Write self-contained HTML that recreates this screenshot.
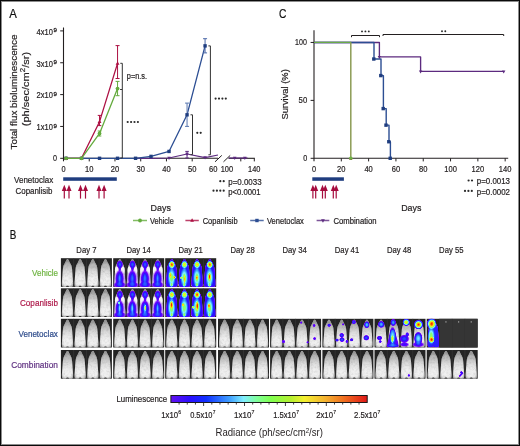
<!DOCTYPE html>
<html><head><meta charset="utf-8"><style>
html,body{margin:0;padding:0;background:#fff;}
svg{display:block;will-change:transform;font-family:"Liberation Sans",sans-serif;}
</style></head><body>
<svg width="520" height="446" viewBox="0 0 520 446">
<rect x="0.5" y="0.5" width="519" height="445" fill="#fff" stroke="#0a0a0a" stroke-width="1"/>
<rect x="1.5" y="1.5" width="517" height="443" fill="none" stroke="#8c8c8c" stroke-width="1"/>
<text x="9.2" y="17.8" font-size="12" fill="#111" stroke="#111" stroke-width="0.2" text-anchor="start" textLength="7.6" lengthAdjust="spacingAndGlyphs" >A</text>
<text x="278.9" y="18.2" font-size="12" fill="#111" stroke="#111" stroke-width="0.2" text-anchor="start" textLength="7.4" lengthAdjust="spacingAndGlyphs" >C</text>
<text x="9.7" y="238.8" font-size="12" fill="#111" stroke="#111" stroke-width="0.2" text-anchor="start" textLength="6.6" lengthAdjust="spacingAndGlyphs" >B</text>
<line x1="63.5" y1="27.5" x2="63.5" y2="161.3" stroke="#231f20" stroke-width="1.1" />
<line x1="63.5" y1="158.3" x2="218.0" y2="158.3" stroke="#231f20" stroke-width="1.1" />
<line x1="228.5" y1="158.3" x2="254.8" y2="158.3" stroke="#231f20" stroke-width="1.1" />
<line x1="60.2" y1="158.3" x2="63.5" y2="158.3" stroke="#231f20" stroke-width="1.0" />
<line x1="60.2" y1="126.45000000000002" x2="63.5" y2="126.45000000000002" stroke="#231f20" stroke-width="1.0" />
<line x1="60.2" y1="94.60000000000001" x2="63.5" y2="94.60000000000001" stroke="#231f20" stroke-width="1.0" />
<line x1="60.2" y1="62.75" x2="63.5" y2="62.75" stroke="#231f20" stroke-width="1.0" />
<line x1="60.2" y1="30.900000000000006" x2="63.5" y2="30.900000000000006" stroke="#231f20" stroke-width="1.0" />
<line x1="89.24" y1="158.3" x2="89.24" y2="161.4" stroke="#231f20" stroke-width="1.0" />
<line x1="114.97999999999999" y1="158.3" x2="114.97999999999999" y2="161.4" stroke="#231f20" stroke-width="1.0" />
<line x1="140.72" y1="158.3" x2="140.72" y2="161.4" stroke="#231f20" stroke-width="1.0" />
<line x1="166.45999999999998" y1="158.3" x2="166.45999999999998" y2="161.4" stroke="#231f20" stroke-width="1.0" />
<line x1="192.2" y1="158.3" x2="192.2" y2="161.4" stroke="#231f20" stroke-width="1.0" />
<line x1="240.8" y1="158.3" x2="240.8" y2="161.4" stroke="#231f20" stroke-width="1.0" />
<line x1="254.3" y1="158.3" x2="254.3" y2="161.4" stroke="#231f20" stroke-width="1.0" />
<line x1="215.0" y1="161.8" x2="221.8" y2="155.4" stroke="#231f20" stroke-width="1.0" />
<line x1="223.5" y1="161.8" x2="230.2" y2="155.4" stroke="#231f20" stroke-width="1.0" />
<text x="36.6" y="34.70" font-size="8.21" fill="#231f20" stroke="#231f20" stroke-width="0.2" text-anchor="start" textLength="16.3" lengthAdjust="spacingAndGlyphs" >4x10</text>
<text x="53.6" y="32.30" font-size="5.83" fill="#231f20" stroke="#231f20" stroke-width="0.3" text-anchor="start" textLength="3.4" lengthAdjust="spacingAndGlyphs" >9</text>
<text x="36.6" y="66.55" font-size="8.21" fill="#231f20" stroke="#231f20" stroke-width="0.2" text-anchor="start" textLength="16.3" lengthAdjust="spacingAndGlyphs" >3x10</text>
<text x="53.6" y="64.15" font-size="5.83" fill="#231f20" stroke="#231f20" stroke-width="0.3" text-anchor="start" textLength="3.4" lengthAdjust="spacingAndGlyphs" >9</text>
<text x="36.6" y="98.40" font-size="8.21" fill="#231f20" stroke="#231f20" stroke-width="0.2" text-anchor="start" textLength="16.3" lengthAdjust="spacingAndGlyphs" >2x10</text>
<text x="53.6" y="96.00" font-size="5.83" fill="#231f20" stroke="#231f20" stroke-width="0.3" text-anchor="start" textLength="3.4" lengthAdjust="spacingAndGlyphs" >9</text>
<text x="36.6" y="130.25" font-size="8.21" fill="#231f20" stroke="#231f20" stroke-width="0.2" text-anchor="start" textLength="16.3" lengthAdjust="spacingAndGlyphs" >1x10</text>
<text x="53.6" y="127.85" font-size="5.83" fill="#231f20" stroke="#231f20" stroke-width="0.3" text-anchor="start" textLength="3.4" lengthAdjust="spacingAndGlyphs" >9</text>
<text x="53.1" y="161.20" font-size="8.21" fill="#231f20" stroke="#231f20" stroke-width="0.2" text-anchor="start" textLength="4.0" lengthAdjust="spacingAndGlyphs" >0</text>
<text x="63.50" y="172.2" font-size="8.21" fill="#231f20" stroke="#231f20" stroke-width="0.2" text-anchor="middle" textLength="4.1" lengthAdjust="spacingAndGlyphs" >0</text>
<text x="89.24" y="172.2" font-size="8.21" fill="#231f20" stroke="#231f20" stroke-width="0.2" text-anchor="middle" textLength="8.4" lengthAdjust="spacingAndGlyphs" >10</text>
<text x="114.98" y="172.2" font-size="8.21" fill="#231f20" stroke="#231f20" stroke-width="0.2" text-anchor="middle" textLength="8.4" lengthAdjust="spacingAndGlyphs" >20</text>
<text x="140.72" y="172.2" font-size="8.21" fill="#231f20" stroke="#231f20" stroke-width="0.2" text-anchor="middle" textLength="8.4" lengthAdjust="spacingAndGlyphs" >30</text>
<text x="166.46" y="172.2" font-size="8.21" fill="#231f20" stroke="#231f20" stroke-width="0.2" text-anchor="middle" textLength="8.4" lengthAdjust="spacingAndGlyphs" >40</text>
<text x="192.20" y="172.2" font-size="8.21" fill="#231f20" stroke="#231f20" stroke-width="0.2" text-anchor="middle" textLength="8.4" lengthAdjust="spacingAndGlyphs" >50</text>
<text x="213.20" y="172.2" font-size="8.21" fill="#231f20" stroke="#231f20" stroke-width="0.2" text-anchor="middle" textLength="8.4" lengthAdjust="spacingAndGlyphs" >60</text>
<text x="226.9" y="172.2" font-size="8.21" fill="#231f20" stroke="#231f20" stroke-width="0.2" text-anchor="middle" textLength="12.4" lengthAdjust="spacingAndGlyphs" >100</text>
<text x="254.3" y="172.2" font-size="8.21" fill="#231f20" stroke="#231f20" stroke-width="0.2" text-anchor="middle" textLength="12.4" lengthAdjust="spacingAndGlyphs" >140</text>
<g transform="translate(16.8,149.5) rotate(-90)"><text x="0" y="0" font-size="9.4" fill="#231f20" stroke="#231f20" stroke-width="0.2" textLength="115" lengthAdjust="spacingAndGlyphs">Total flux bioluminescence</text></g>
<g transform="translate(28.9,126.2) rotate(-90)"><text x="0" y="0" font-size="9.4" fill="#231f20" stroke="#231f20" stroke-width="0.2" textLength="74.3" lengthAdjust="spacingAndGlyphs">(ph/sec/cm<tspan font-size="6.6" dy="-3.8">2</tspan><tspan dy="3.8">/sr)</tspan></text></g>
<polyline points="135.57,158.30 151.02,158.30 169.03,157.98 187.05,154.00 205.07,157.66 218.00,155.00" fill="none" stroke="#5c2a7f" stroke-width="1.2" stroke-linejoin="round" />
<polyline points="228.80,158.00 234.73,158.00 244.85,158.00 247.50,158.00" fill="none" stroke="#5c2a7f" stroke-width="1.2" stroke-linejoin="round" />
<g stroke="#5c2a7f" stroke-width="1.0" opacity="1"><line x1="187.052" y1="151.4" x2="187.052" y2="158.0"/><line x1="185.25199999999998" y1="151.4" x2="188.852" y2="151.4"/><line x1="185.25199999999998" y1="158.0" x2="188.852" y2="158.0"/></g>
<polygon points="169.03,159.93 170.83,156.69 167.23,156.69" fill="#5c2a7f"/>
<polygon points="187.05,155.94 188.85,152.70 185.25,152.70" fill="#5c2a7f"/>
<polygon points="205.07,159.61 206.87,156.37 203.27,156.37" fill="#5c2a7f"/>
<polygon points="234.73,159.94 236.53,156.70 232.93,156.70" fill="#5c2a7f"/>
<polygon points="244.85,159.94 246.65,156.70 243.05,156.70" fill="#5c2a7f"/>
<polyline points="66.07,158.30 81.52,158.30 99.54,158.30 117.55,158.30 135.57,158.30 151.02,156.39 169.03,151.45 187.05,114.82 205.07,45.87" fill="none" stroke="#2c4e93" stroke-width="1.3" stroke-linejoin="round" />
<g stroke="#5a77b0" stroke-width="1.0" opacity="1"><line x1="187.052" y1="103.1" x2="187.052" y2="126.4"/><line x1="185.052" y1="103.1" x2="189.052" y2="103.1"/><line x1="185.052" y1="126.4" x2="189.052" y2="126.4"/></g>
<g stroke="#4a68a8" stroke-width="1.0" opacity="1"><line x1="205.07" y1="38.7" x2="205.07" y2="52.9"/><line x1="203.07" y1="38.7" x2="207.07" y2="38.7"/><line x1="203.07" y1="52.9" x2="207.07" y2="52.9"/></g>
<rect x="64.37" y="156.60" width="3.4" height="3.4" fill="#1f3d7f"/>
<rect x="79.82" y="156.60" width="3.4" height="3.4" fill="#1f3d7f"/>
<rect x="97.84" y="156.60" width="3.4" height="3.4" fill="#1f3d7f"/>
<rect x="115.85" y="156.60" width="3.4" height="3.4" fill="#1f3d7f"/>
<rect x="133.87" y="156.60" width="3.4" height="3.4" fill="#1f3d7f"/>
<rect x="149.32" y="154.69" width="3.4" height="3.4" fill="#1f3d7f"/>
<rect x="167.33" y="149.75" width="3.4" height="3.4" fill="#1f3d7f"/>
<rect x="185.35" y="113.12" width="3.4" height="3.4" fill="#1f3d7f"/>
<rect x="203.37" y="44.17" width="3.4" height="3.4" fill="#1f3d7f"/>
<polyline points="66.07,158.30 81.52,158.30 99.54,121.67 117.55,63.39" fill="none" stroke="#ad1043" stroke-width="1.3" stroke-linejoin="round" />
<g stroke="#ad1043" stroke-width="1.0" opacity="1"><line x1="99.536" y1="115.4" x2="99.536" y2="125.6"/><line x1="97.736" y1="115.4" x2="101.336" y2="115.4"/><line x1="97.736" y1="125.6" x2="101.336" y2="125.6"/></g>
<g stroke="#ad1043" stroke-width="1.0" opacity="1"><line x1="117.554" y1="45.6" x2="117.554" y2="78.5"/><line x1="115.554" y1="45.6" x2="119.554" y2="45.6"/><line x1="115.554" y1="78.5" x2="119.554" y2="78.5"/></g>
<polygon points="66.07,156.25 67.97,159.67 64.17,159.67" fill="#ad1043"/>
<polygon points="81.52,156.25 83.42,159.67 79.62,159.67" fill="#ad1043"/>
<polygon points="99.54,119.62 101.44,123.04 97.64,123.04" fill="#ad1043"/>
<polygon points="117.55,61.34 119.45,64.76 115.65,64.76" fill="#ad1043"/>
<polyline points="66.07,158.30 81.52,158.30 99.54,133.46 117.55,88.55" fill="none" stroke="#64ab3d" stroke-width="1.3" stroke-linejoin="round" />
<g stroke="#64ab3d" stroke-width="1.0" opacity="1"><line x1="99.536" y1="131.0" x2="99.536" y2="136.0"/><line x1="97.736" y1="131.0" x2="101.336" y2="131.0"/><line x1="97.736" y1="136.0" x2="101.336" y2="136.0"/></g>
<g stroke="#64ab3d" stroke-width="1.0" opacity="1"><line x1="117.554" y1="81.4" x2="117.554" y2="95.7"/><line x1="115.554" y1="81.4" x2="119.554" y2="81.4"/><line x1="115.554" y1="95.7" x2="119.554" y2="95.7"/></g>
<circle cx="66.07" cy="158.30" r="1.9" fill="#64ab3d"/>
<circle cx="81.52" cy="158.30" r="1.9" fill="#64ab3d"/>
<circle cx="99.54" cy="133.46" r="1.9" fill="#64ab3d"/>
<circle cx="117.55" cy="88.55" r="1.9" fill="#64ab3d"/>
<polyline points="120.3,63.3 122.3,63.3 122.3,89.5 120.3,89.5" fill="none" stroke="#333" stroke-width="1.0"/>
<polyline points="120.3,89.5 122.3,89.5 122.3,158.0 120.3,158.0" fill="none" stroke="#333" stroke-width="1.0"/>
<text x="126.8" y="78.6" font-size="8.21" fill="#231f20" stroke="#231f20" stroke-width="0.2" text-anchor="start" textLength="20.2" lengthAdjust="spacingAndGlyphs" >p=n.s.</text>
<circle cx="127.70" cy="122.0" r="1.1" fill="#2a2a2a"/>
<circle cx="131.10" cy="122.0" r="1.1" fill="#2a2a2a"/>
<circle cx="134.50" cy="122.0" r="1.1" fill="#2a2a2a"/>
<circle cx="137.90" cy="122.0" r="1.1" fill="#2a2a2a"/>
<polyline points="190.5,114.8 192.5,114.8 192.5,154.6 190.5,154.6" fill="none" stroke="#333" stroke-width="1.0"/>
<circle cx="197.30" cy="132.8" r="1.1" fill="#2a2a2a"/>
<circle cx="200.70" cy="132.8" r="1.1" fill="#2a2a2a"/>
<polyline points="208.4,45.9 210.4,45.9 210.4,154.8 208.4,154.8" fill="none" stroke="#333" stroke-width="1.0"/>
<circle cx="215.60" cy="98.6" r="1.1" fill="#2a2a2a"/>
<circle cx="219.00" cy="98.6" r="1.1" fill="#2a2a2a"/>
<circle cx="222.40" cy="98.6" r="1.1" fill="#2a2a2a"/>
<circle cx="225.80" cy="98.6" r="1.1" fill="#2a2a2a"/>
<circle cx="220.30" cy="181.2" r="1.1" fill="#2a2a2a"/>
<circle cx="223.70" cy="181.2" r="1.1" fill="#2a2a2a"/>
<text x="228.3" y="185.0" font-size="8.21" fill="#231f20" stroke="#231f20" stroke-width="0.2" text-anchor="start" textLength="33.3" lengthAdjust="spacingAndGlyphs" >p=0.0033</text>
<circle cx="213.50" cy="190.7" r="1.1" fill="#2a2a2a"/>
<circle cx="216.90" cy="190.7" r="1.1" fill="#2a2a2a"/>
<circle cx="220.30" cy="190.7" r="1.1" fill="#2a2a2a"/>
<circle cx="223.70" cy="190.7" r="1.1" fill="#2a2a2a"/>
<text x="228.3" y="194.5" font-size="8.21" fill="#231f20" stroke="#231f20" stroke-width="0.2" text-anchor="start" textLength="32.3" lengthAdjust="spacingAndGlyphs" >p&lt;0.0001</text>
<rect x="63.2" y="177.3" width="53.599999999999994" height="3.5" fill="#1f3d7f"/>
<line x1="64.3" y1="189.5" x2="64.3" y2="198.6" stroke="#a60c3e" stroke-width="1.2"/>
<polygon points="64.3,184.7 66.8,190.9 61.8,190.9" fill="#a60c3e"/>
<line x1="69.0" y1="189.5" x2="69.0" y2="198.6" stroke="#a60c3e" stroke-width="1.2"/>
<polygon points="69.0,184.7 71.5,190.9 66.5,190.9" fill="#a60c3e"/>
<line x1="80.5" y1="189.5" x2="80.5" y2="198.6" stroke="#a60c3e" stroke-width="1.2"/>
<polygon points="80.5,184.7 83.0,190.9 78.0,190.9" fill="#a60c3e"/>
<line x1="85.5" y1="189.5" x2="85.5" y2="198.6" stroke="#a60c3e" stroke-width="1.2"/>
<polygon points="85.5,184.7 88.0,190.9 83.0,190.9" fill="#a60c3e"/>
<line x1="99.0" y1="189.5" x2="99.0" y2="198.6" stroke="#a60c3e" stroke-width="1.2"/>
<polygon points="99.0,184.7 101.5,190.9 96.5,190.9" fill="#a60c3e"/>
<line x1="104.1" y1="189.5" x2="104.1" y2="198.6" stroke="#a60c3e" stroke-width="1.2"/>
<polygon points="104.1,184.7 106.6,190.9 101.6,190.9" fill="#a60c3e"/>
<text x="14.1" y="182.5" font-size="8.53" fill="#231f20" stroke="#231f20" stroke-width="0.2" text-anchor="start" textLength="39.1" lengthAdjust="spacingAndGlyphs" >Venetoclax</text>
<text x="15.5" y="193.9" font-size="8.53" fill="#231f20" stroke="#231f20" stroke-width="0.2" text-anchor="start" textLength="37.0" lengthAdjust="spacingAndGlyphs" >Copanlisib</text>
<text x="150.6" y="211.0" font-size="9.72" fill="#231f20" stroke="#231f20" stroke-width="0.2" text-anchor="start" textLength="20.3" lengthAdjust="spacingAndGlyphs" >Days</text>
<line x1="314.0" y1="30.3" x2="314.0" y2="161.3" stroke="#231f20" stroke-width="1.1" />
<line x1="314.0" y1="158.3" x2="508.2" y2="158.3" stroke="#231f20" stroke-width="1.1" />
<line x1="310.6" y1="158.3" x2="314.0" y2="158.3" stroke="#231f20" stroke-width="1.0" />
<line x1="310.6" y1="100.375" x2="314.0" y2="100.375" stroke="#231f20" stroke-width="1.0" />
<line x1="310.6" y1="42.45" x2="314.0" y2="42.45" stroke="#231f20" stroke-width="1.0" />
<line x1="341.31" y1="158.3" x2="341.31" y2="161.4" stroke="#231f20" stroke-width="1.0" />
<line x1="368.62" y1="158.3" x2="368.62" y2="161.4" stroke="#231f20" stroke-width="1.0" />
<line x1="395.93" y1="158.3" x2="395.93" y2="161.4" stroke="#231f20" stroke-width="1.0" />
<line x1="423.24" y1="158.3" x2="423.24" y2="161.4" stroke="#231f20" stroke-width="1.0" />
<line x1="450.54999999999995" y1="158.3" x2="450.54999999999995" y2="161.4" stroke="#231f20" stroke-width="1.0" />
<line x1="477.86" y1="158.3" x2="477.86" y2="161.4" stroke="#231f20" stroke-width="1.0" />
<line x1="505.16999999999996" y1="158.3" x2="505.16999999999996" y2="161.4" stroke="#231f20" stroke-width="1.0" />
<text x="306.9" y="45.25" font-size="8.21" fill="#231f20" stroke="#231f20" stroke-width="0.2" text-anchor="end" textLength="11.8" lengthAdjust="spacingAndGlyphs" >100</text>
<text x="307.2" y="103.17" font-size="8.21" fill="#231f20" stroke="#231f20" stroke-width="0.2" text-anchor="end" textLength="8.6" lengthAdjust="spacingAndGlyphs" >50</text>
<text x="307.2" y="161.10" font-size="8.21" fill="#231f20" stroke="#231f20" stroke-width="0.2" text-anchor="end" textLength="4.0" lengthAdjust="spacingAndGlyphs" >0</text>
<text x="314.00" y="172.0" font-size="8.21" fill="#231f20" stroke="#231f20" stroke-width="0.2" text-anchor="middle" textLength="4.1" lengthAdjust="spacingAndGlyphs" >0</text>
<text x="341.31" y="172.0" font-size="8.21" fill="#231f20" stroke="#231f20" stroke-width="0.2" text-anchor="middle" textLength="8.4" lengthAdjust="spacingAndGlyphs" >20</text>
<text x="368.62" y="172.0" font-size="8.21" fill="#231f20" stroke="#231f20" stroke-width="0.2" text-anchor="middle" textLength="8.4" lengthAdjust="spacingAndGlyphs" >40</text>
<text x="395.93" y="172.0" font-size="8.21" fill="#231f20" stroke="#231f20" stroke-width="0.2" text-anchor="middle" textLength="8.4" lengthAdjust="spacingAndGlyphs" >60</text>
<text x="423.24" y="172.0" font-size="8.21" fill="#231f20" stroke="#231f20" stroke-width="0.2" text-anchor="middle" textLength="8.4" lengthAdjust="spacingAndGlyphs" >80</text>
<text x="450.55" y="172.0" font-size="8.21" fill="#231f20" stroke="#231f20" stroke-width="0.2" text-anchor="middle" textLength="12.6" lengthAdjust="spacingAndGlyphs" >100</text>
<text x="477.86" y="172.0" font-size="8.21" fill="#231f20" stroke="#231f20" stroke-width="0.2" text-anchor="middle" textLength="12.6" lengthAdjust="spacingAndGlyphs" >120</text>
<text x="505.17" y="172.0" font-size="8.21" fill="#231f20" stroke="#231f20" stroke-width="0.2" text-anchor="middle" textLength="12.6" lengthAdjust="spacingAndGlyphs" >140</text>
<g transform="translate(288.0,119.6) rotate(-90)"><text x="0" y="0" font-size="9.2" fill="#231f20" stroke="#231f20" stroke-width="0.2" textLength="50.4" lengthAdjust="spacingAndGlyphs">Survival (%)</text></g>
<text x="401.2" y="210.8" font-size="9.72" fill="#231f20" stroke="#231f20" stroke-width="0.2" text-anchor="start" textLength="20.2" lengthAdjust="spacingAndGlyphs" >Days</text>
<circle cx="468.60" cy="180.5" r="1.1" fill="#2a2a2a"/>
<circle cx="472.00" cy="180.5" r="1.1" fill="#2a2a2a"/>
<text x="476.8" y="184.3" font-size="8.21" fill="#231f20" stroke="#231f20" stroke-width="0.2" text-anchor="start" textLength="33.2" lengthAdjust="spacingAndGlyphs" >p=0.0013</text>
<circle cx="465.00" cy="190.9" r="1.1" fill="#2a2a2a"/>
<circle cx="468.40" cy="190.9" r="1.1" fill="#2a2a2a"/>
<circle cx="471.80" cy="190.9" r="1.1" fill="#2a2a2a"/>
<text x="476.8" y="194.7" font-size="8.21" fill="#231f20" stroke="#231f20" stroke-width="0.2" text-anchor="start" textLength="33.2" lengthAdjust="spacingAndGlyphs" >p=0.0002</text>
<polyline points="314.00,42.45 379.40,42.45 379.40,56.93 420.60,56.93 420.60,71.41 503.70,71.41" fill="none" stroke="#5c2a7f" stroke-width="1.35" stroke-linejoin="round" />
<polyline points="314.00,42.45 374.00,42.45 374.00,59.02 381.00,59.02 381.00,75.58 383.40,75.58 383.40,108.60 386.20,108.60 386.20,125.17 389.00,125.17 389.00,141.73 390.40,141.73 390.40,158.30" fill="none" stroke="#2c4e93" stroke-width="1.4" stroke-linejoin="round" />
<rect x="372.10" y="57.32" width="3.4" height="3.4" fill="#1f3d7f"/>
<rect x="379.10" y="73.88" width="3.4" height="3.4" fill="#1f3d7f"/>
<rect x="381.50" y="106.90" width="3.4" height="3.4" fill="#1f3d7f"/>
<rect x="384.30" y="123.47" width="3.4" height="3.4" fill="#1f3d7f"/>
<rect x="387.10" y="140.03" width="3.4" height="3.4" fill="#1f3d7f"/>
<rect x="388.50" y="156.60" width="3.4" height="3.4" fill="#1f3d7f"/>
<polygon points="379.40,59.07 381.10,56.01 377.70,56.01" fill="#5c2a7f"/>
<polygon points="420.60,73.55 422.30,70.49 418.90,70.49" fill="#5c2a7f"/>
<polygon points="503.70,73.55 505.40,70.49 502.00,70.49" fill="#5c2a7f"/>
<line x1="314.0" y1="42.45" x2="351.2" y2="42.45" stroke="#6aaa48" stroke-width="1.2" />
<line x1="350.8" y1="42.45" x2="350.8" y2="158.3" stroke="#8c9c55" stroke-width="1.5" />
<polygon points="350.80,157.07 352.40,159.95 349.20,159.95" fill="#ad1043"/>
<circle cx="350.80" cy="158.30" r="1.8" fill="#6cb043"/>
<polyline points="351.5,37.2 351.5,35.5 379.5,35.5 379.5,37.2" fill="none" stroke="#231f20" stroke-width="1"/>
<circle cx="362.00" cy="31.4" r="0.95" fill="#2a2a2a"/>
<circle cx="365.40" cy="31.4" r="0.95" fill="#2a2a2a"/>
<circle cx="368.80" cy="31.4" r="0.95" fill="#2a2a2a"/>
<polyline points="383.0,36.0 383.0,34.5 503.7,34.5 503.7,36.0" fill="none" stroke="#231f20" stroke-width="1"/>
<circle cx="442.00" cy="31.2" r="0.95" fill="#2a2a2a"/>
<circle cx="445.30" cy="31.2" r="0.95" fill="#2a2a2a"/>
<rect x="312.3" y="177.3" width="31.599999999999966" height="3.5" fill="#1f3d7f"/>
<line x1="312.9" y1="189.5" x2="312.9" y2="198.6" stroke="#a60c3e" stroke-width="1.2"/>
<polygon points="312.9,184.7 315.4,190.9 310.4,190.9" fill="#a60c3e"/>
<line x1="315.7" y1="189.5" x2="315.7" y2="198.6" stroke="#a60c3e" stroke-width="1.2"/>
<polygon points="315.7,184.7 318.2,190.9 313.2,190.9" fill="#a60c3e"/>
<line x1="322.5" y1="189.5" x2="322.5" y2="198.6" stroke="#a60c3e" stroke-width="1.2"/>
<polygon points="322.5,184.7 325.0,190.9 320.0,190.9" fill="#a60c3e"/>
<line x1="325.3" y1="189.5" x2="325.3" y2="198.6" stroke="#a60c3e" stroke-width="1.2"/>
<polygon points="325.3,184.7 327.8,190.9 322.8,190.9" fill="#a60c3e"/>
<line x1="333.3" y1="189.5" x2="333.3" y2="198.6" stroke="#a60c3e" stroke-width="1.2"/>
<polygon points="333.3,184.7 335.8,190.9 330.8,190.9" fill="#a60c3e"/>
<line x1="336.2" y1="189.5" x2="336.2" y2="198.6" stroke="#a60c3e" stroke-width="1.2"/>
<polygon points="336.2,184.7 338.7,190.9 333.7,190.9" fill="#a60c3e"/>
<line x1="133.0" y1="220.5" x2="147.0" y2="220.5" stroke="#64ab3d" stroke-width="1.5" stroke-opacity="0.8"/>
<circle cx="140.00" cy="220.50" r="1.9" fill="#64ab3d"/>
<text x="150.0" y="223.5" font-size="8.21" fill="#231f20" stroke="#231f20" stroke-width="0.2" text-anchor="start" textLength="23.8" lengthAdjust="spacingAndGlyphs" >Vehicle</text>
<line x1="185.4" y1="220.5" x2="198.8" y2="220.5" stroke="#ad1043" stroke-width="1.5" stroke-opacity="0.8"/>
<polygon points="192.10,218.25 194.00,221.67 190.20,221.67" fill="#ad1043"/>
<text x="202.7" y="223.5" font-size="8.21" fill="#231f20" stroke="#231f20" stroke-width="0.2" text-anchor="start" textLength="35.0" lengthAdjust="spacingAndGlyphs" >Copanlisib</text>
<line x1="250.2" y1="220.5" x2="263.7" y2="220.5" stroke="#2c4e93" stroke-width="1.5" stroke-opacity="0.8"/>
<rect x="255.25" y="218.80" width="3.4" height="3.4" fill="#2c4e93"/>
<text x="267.0" y="223.5" font-size="8.21" fill="#231f20" stroke="#231f20" stroke-width="0.2" text-anchor="start" textLength="36.9" lengthAdjust="spacingAndGlyphs" >Venetoclax</text>
<line x1="316.6" y1="220.5" x2="329.3" y2="220.5" stroke="#5c2a7f" stroke-width="1.5" stroke-opacity="0.8"/>
<polygon points="322.95,222.75 324.85,219.33 321.05,219.33" fill="#5c2a7f"/>
<text x="333.4" y="223.5" font-size="8.21" fill="#231f20" stroke="#231f20" stroke-width="0.2" text-anchor="start" textLength="43.2" lengthAdjust="spacingAndGlyphs" >Combination</text>
<defs>
<linearGradient id="mg" x1="0" y1="0" x2="0" y2="1">
<stop offset="0" stop-color="#cccccc"/><stop offset="0.1" stop-color="#b4b4b4"/><stop offset="0.28" stop-color="#c4c4c4"/><stop offset="0.45" stop-color="#dedede"/><stop offset="0.7" stop-color="#f2f2f2"/><stop offset="0.92" stop-color="#f6f6f6"/><stop offset="1" stop-color="#d0d0d0"/></linearGradient>
<filter id="tx" x="-0.1" y="-0.05" width="1.2" height="1.1">
<feTurbulence type="fractalNoise" baseFrequency="0.45" numOctaves="2" seed="4" result="n"/>
<feColorMatrix in="n" type="matrix" values="0.22 0.22 0.22 0 0.63  0.22 0.22 0.22 0 0.63  0.22 0.22 0.22 0 0.63  0 0 0 0 1" result="g"/>
<feBlend in="SourceGraphic" in2="g" mode="multiply" result="m"/>
<feComposite in="m" in2="SourceGraphic" operator="in" result="c"/>
<feGaussianBlur in="c" stdDeviation="0.3"/>
</filter>
<radialGradient id="me" cx="0.5" cy="0.6" r="0.62">
<stop offset="0" stop-color="#000" stop-opacity="0"/><stop offset="0.7" stop-color="#000" stop-opacity="0.03"/><stop offset="1" stop-color="#000" stop-opacity="0.3"/></radialGradient>
<filter id="bl" x="-0.3" y="-0.3" width="1.6" height="1.6"><feGaussianBlur stdDeviation="0.35"/></filter>
<filter id="hb" x="-0.5" y="-0.5" width="2" height="2"><feGaussianBlur stdDeviation="0.55"/></filter>
<path id="ms" d="M0.00,1.00 C0.12,1.05 0.48,1.08 0.70,1.30 C0.92,1.52 1.08,1.88 1.30,2.30 C1.52,2.72 1.72,3.25 2.00,3.80 C2.28,4.35 2.68,5.00 3.00,5.60 C3.32,6.20 3.67,6.77 3.90,7.40 C4.13,8.03 4.27,8.63 4.40,9.40 C4.53,10.17 4.60,10.90 4.70,12.00 C4.80,13.10 4.88,14.42 5.00,16.00 C5.12,17.58 5.30,20.00 5.40,21.50 C5.50,23.00 5.62,23.95 5.60,25.00 C5.58,26.05 5.52,27.22 5.30,27.80 C5.08,28.38 4.47,28.38 4.30,28.50 L1.7,28.5 L0.7,27.6 L-0.7,27.6 L-1.7,28.5 L-4.30,28.50 C-4.47,28.38 -5.08,28.38 -5.30,27.80 C-5.52,27.22 -5.58,26.05 -5.60,25.00 C-5.62,23.95 -5.50,23.00 -5.40,21.50 C-5.30,20.00 -5.12,17.58 -5.00,16.00 C-4.88,14.42 -4.80,13.10 -4.70,12.00 C-4.60,10.90 -4.53,10.17 -4.40,9.40 C-4.27,8.63 -4.13,8.03 -3.90,7.40 C-3.67,6.77 -3.32,6.20 -3.00,5.60 C-2.68,5.00 -2.28,4.35 -2.00,3.80 C-1.72,3.25 -1.52,2.72 -1.30,2.30 C-1.08,1.88 -0.92,1.52 -0.70,1.30 C-0.48,1.08 -0.12,1.05 0.00,1.00 Z"/>
<radialGradient id="hg"><stop offset="0" stop-color="#fff" stop-opacity="1"/><stop offset="0.3" stop-color="#fff" stop-opacity="0.88"/><stop offset="0.6" stop-color="#fff" stop-opacity="0.55"/><stop offset="0.85" stop-color="#fff" stop-opacity="0.2"/><stop offset="1" stop-color="#fff" stop-opacity="0"/></radialGradient>
<filter id="heat" color-interpolation-filters="sRGB" x="-0.1" y="-0.1" width="1.2" height="1.2">
<feGaussianBlur stdDeviation="0.55"/>
<feColorMatrix type="matrix" values="0 0 0 1 0  0 0 0 1 0  0 0 0 1 0  0 0 0 1 0"/>
<feComponentTransfer>
<feFuncR type="table" tableValues="0.416 0.416 0.165 0.157 0.235 0.502 0.502 0.784 0.98 1 0.91"/>
<feFuncG type="table" tableValues="0 0 0.078 0.353 0.667 0.941 1 1 0.902 0.51 0"/>
<feFuncB type="table" tableValues="1 1 1 1 1 1 0.47 0.157 0.118 0 0.063"/>
<feFuncA type="table" tableValues="0 1 1 1 1 1 1 1 1 1 1"/>
</feComponentTransfer>
</filter>
<linearGradient id="cbar" x1="0" x2="1" y1="0" y2="0">
<stop offset="0" stop-color="#6210f0"/><stop offset="0.10" stop-color="#2a10ff"/><stop offset="0.18" stop-color="#1030ff"/>
<stop offset="0.30" stop-color="#40a0ff"/><stop offset="0.37" stop-color="#80eeff"/><stop offset="0.44" stop-color="#80ff98"/>
<stop offset="0.51" stop-color="#80ff50"/><stop offset="0.61" stop-color="#b4f030"/><stop offset="0.68" stop-color="#f4f030"/>
<stop offset="0.79" stop-color="#f4b030"/><stop offset="0.88" stop-color="#f07020"/><stop offset="1" stop-color="#e01818"/>
</linearGradient>
</defs>
<text x="86.40" y="252.9" font-size="8.96" fill="#231f20" stroke="#231f20" stroke-width="0.2" text-anchor="middle" textLength="20.10" lengthAdjust="spacingAndGlyphs" >Day 7</text>
<text x="138.70" y="252.9" font-size="8.96" fill="#231f20" stroke="#231f20" stroke-width="0.2" text-anchor="middle" textLength="24.38" lengthAdjust="spacingAndGlyphs" >Day 14</text>
<text x="190.70" y="252.9" font-size="8.96" fill="#231f20" stroke="#231f20" stroke-width="0.2" text-anchor="middle" textLength="24.38" lengthAdjust="spacingAndGlyphs" >Day 21</text>
<text x="242.60" y="252.9" font-size="8.96" fill="#231f20" stroke="#231f20" stroke-width="0.2" text-anchor="middle" textLength="24.38" lengthAdjust="spacingAndGlyphs" >Day 28</text>
<text x="294.70" y="252.9" font-size="8.96" fill="#231f20" stroke="#231f20" stroke-width="0.2" text-anchor="middle" textLength="24.38" lengthAdjust="spacingAndGlyphs" >Day 34</text>
<text x="347.00" y="252.9" font-size="8.96" fill="#231f20" stroke="#231f20" stroke-width="0.2" text-anchor="middle" textLength="24.38" lengthAdjust="spacingAndGlyphs" >Day 41</text>
<text x="399.10" y="252.9" font-size="8.96" fill="#231f20" stroke="#231f20" stroke-width="0.2" text-anchor="middle" textLength="24.38" lengthAdjust="spacingAndGlyphs" >Day 48</text>
<text x="451.30" y="252.9" font-size="8.96" fill="#231f20" stroke="#231f20" stroke-width="0.2" text-anchor="middle" textLength="24.38" lengthAdjust="spacingAndGlyphs" >Day 55</text>
<text x="32.10" y="276.2" font-size="9.29" fill="#6db33f" stroke="#6db33f" stroke-width="0.2" text-anchor="start" textLength="25.8" lengthAdjust="spacingAndGlyphs" >Vehicle</text>
<text x="20.00" y="305.8" font-size="9.29" fill="#ae1849" stroke="#ae1849" stroke-width="0.2" text-anchor="start" textLength="37.9" lengthAdjust="spacingAndGlyphs" >Copanlisib</text>
<text x="18.50" y="337.3" font-size="9.29" fill="#2c4a8a" stroke="#2c4a8a" stroke-width="0.2" text-anchor="start" textLength="39.4" lengthAdjust="spacingAndGlyphs" >Venetoclax</text>
<text x="11.20" y="368.3" font-size="9.29" fill="#5f3081" stroke="#5f3081" stroke-width="0.2" text-anchor="start" textLength="46.7" lengthAdjust="spacingAndGlyphs" >Combination</text>
<rect x="60.9" y="258.2" width="51.0" height="28.7" fill="#242424"/>
<line x1="73.65" y1="258.2" x2="73.65" y2="286.9" stroke="#3a3a3a" stroke-width="0.6"/>
<line x1="86.40" y1="258.2" x2="86.40" y2="286.9" stroke="#3a3a3a" stroke-width="0.6"/>
<line x1="99.15" y1="258.2" x2="99.15" y2="286.9" stroke="#3a3a3a" stroke-width="0.6"/>
<g filter="url(#tx)"><use href="#ms" x="67.50" y="258.20" fill="url(#mg)"/><use href="#ms" x="67.50" y="258.20" fill="url(#me)"/></g>
<g filter="url(#tx)"><use href="#ms" x="80.15" y="258.20" fill="url(#mg)"/><use href="#ms" x="80.15" y="258.20" fill="url(#me)"/></g>
<g filter="url(#tx)"><use href="#ms" x="92.80" y="258.20" fill="url(#mg)"/><use href="#ms" x="92.80" y="258.20" fill="url(#me)"/></g>
<g filter="url(#tx)"><use href="#ms" x="105.45" y="258.20" fill="url(#mg)"/><use href="#ms" x="105.45" y="258.20" fill="url(#me)"/></g>
<rect x="113.2" y="258.2" width="51.0" height="28.7" fill="#242424"/>
<line x1="125.95" y1="258.2" x2="125.95" y2="286.9" stroke="#3a3a3a" stroke-width="0.6"/>
<line x1="138.70" y1="258.2" x2="138.70" y2="286.9" stroke="#3a3a3a" stroke-width="0.6"/>
<line x1="151.45" y1="258.2" x2="151.45" y2="286.9" stroke="#3a3a3a" stroke-width="0.6"/>
<g filter="url(#tx)"><use href="#ms" x="119.80" y="258.20" fill="url(#mg)"/><use href="#ms" x="119.80" y="258.20" fill="url(#me)"/></g>
<g filter="url(#tx)"><use href="#ms" x="132.45" y="258.20" fill="url(#mg)"/><use href="#ms" x="132.45" y="258.20" fill="url(#me)"/></g>
<g filter="url(#tx)"><use href="#ms" x="145.10" y="258.20" fill="url(#mg)"/><use href="#ms" x="145.10" y="258.20" fill="url(#me)"/></g>
<g filter="url(#tx)"><use href="#ms" x="157.75" y="258.20" fill="url(#mg)"/><use href="#ms" x="157.75" y="258.20" fill="url(#me)"/></g>
<ellipse cx="116.80" cy="270.20" rx="1.9" ry="3.6" fill="#f4f4f4" filter="url(#bl)"/><ellipse cx="122.80" cy="270.20" rx="1.9" ry="3.6" fill="#f4f4f4" filter="url(#bl)"/><ellipse cx="129.45" cy="270.20" rx="1.9" ry="3.6" fill="#f4f4f4" filter="url(#bl)"/><ellipse cx="135.45" cy="270.20" rx="1.9" ry="3.6" fill="#f4f4f4" filter="url(#bl)"/><ellipse cx="142.10" cy="270.20" rx="1.9" ry="3.6" fill="#f4f4f4" filter="url(#bl)"/><ellipse cx="148.10" cy="270.20" rx="1.9" ry="3.6" fill="#f4f4f4" filter="url(#bl)"/><ellipse cx="154.75" cy="270.20" rx="1.9" ry="3.6" fill="#f4f4f4" filter="url(#bl)"/><ellipse cx="160.75" cy="270.20" rx="1.9" ry="3.6" fill="#f4f4f4" filter="url(#bl)"/>
<clipPath id="cp1_0"><rect x="113.2" y="258.2" width="51.0" height="28.7"/></clipPath>
<g clip-path="url(#cp1_0)"><g filter="url(#heat)"><ellipse cx="119.80" cy="264.50" rx="3.40" ry="4.40" fill="url(#hg)" opacity="0.30"/><ellipse cx="119.80" cy="268.70" rx="1.80" ry="2.60" fill="url(#hg)" opacity="0.14"/><ellipse cx="119.80" cy="279.20" rx="6.20" ry="10.00" fill="url(#hg)" opacity="0.10"/><ellipse cx="119.60" cy="278.70" rx="4.20" ry="9.50" fill="url(#hg)" opacity="0.20"/><ellipse cx="119.60" cy="285.00" rx="7.00" ry="3.40" fill="url(#hg)" opacity="0.18"/><ellipse cx="119.60" cy="278.20" rx="1.30" ry="6.50" fill="url(#hg)" opacity="0.14"/><ellipse cx="132.45" cy="264.50" rx="3.40" ry="4.40" fill="url(#hg)" opacity="0.30"/><ellipse cx="132.45" cy="268.70" rx="1.80" ry="2.60" fill="url(#hg)" opacity="0.14"/><ellipse cx="132.45" cy="279.20" rx="6.20" ry="10.00" fill="url(#hg)" opacity="0.10"/><ellipse cx="132.25" cy="278.70" rx="4.20" ry="9.50" fill="url(#hg)" opacity="0.20"/><ellipse cx="132.25" cy="285.00" rx="7.00" ry="3.40" fill="url(#hg)" opacity="0.18"/><ellipse cx="132.25" cy="278.20" rx="1.30" ry="6.50" fill="url(#hg)" opacity="0.08"/><ellipse cx="145.10" cy="264.50" rx="3.40" ry="4.40" fill="url(#hg)" opacity="0.30"/><ellipse cx="145.10" cy="268.70" rx="1.80" ry="2.60" fill="url(#hg)" opacity="0.14"/><ellipse cx="145.10" cy="279.20" rx="6.20" ry="10.00" fill="url(#hg)" opacity="0.10"/><ellipse cx="144.90" cy="278.70" rx="4.20" ry="9.50" fill="url(#hg)" opacity="0.20"/><ellipse cx="144.90" cy="285.00" rx="7.00" ry="3.40" fill="url(#hg)" opacity="0.18"/><ellipse cx="144.90" cy="278.20" rx="1.30" ry="6.50" fill="url(#hg)" opacity="0.10"/><ellipse cx="157.75" cy="264.50" rx="3.40" ry="4.40" fill="url(#hg)" opacity="0.30"/><ellipse cx="157.75" cy="268.70" rx="1.80" ry="2.60" fill="url(#hg)" opacity="0.14"/><ellipse cx="157.75" cy="279.20" rx="6.20" ry="10.00" fill="url(#hg)" opacity="0.10"/><ellipse cx="157.55" cy="278.70" rx="4.20" ry="9.50" fill="url(#hg)" opacity="0.20"/><ellipse cx="157.55" cy="285.00" rx="7.00" ry="3.40" fill="url(#hg)" opacity="0.18"/><ellipse cx="157.55" cy="278.20" rx="1.30" ry="6.50" fill="url(#hg)" opacity="0.14"/></g></g>
<rect x="165.2" y="258.2" width="51.0" height="28.7" fill="#242424"/>
<line x1="177.95" y1="258.2" x2="177.95" y2="286.9" stroke="#3a3a3a" stroke-width="0.6"/>
<line x1="190.70" y1="258.2" x2="190.70" y2="286.9" stroke="#3a3a3a" stroke-width="0.6"/>
<line x1="203.45" y1="258.2" x2="203.45" y2="286.9" stroke="#3a3a3a" stroke-width="0.6"/>
<g filter="url(#tx)"><use href="#ms" x="171.80" y="258.20" fill="url(#mg)"/><use href="#ms" x="171.80" y="258.20" fill="url(#me)"/></g>
<g filter="url(#tx)"><use href="#ms" x="184.45" y="258.20" fill="url(#mg)"/><use href="#ms" x="184.45" y="258.20" fill="url(#me)"/></g>
<g filter="url(#tx)"><use href="#ms" x="197.10" y="258.20" fill="url(#mg)"/><use href="#ms" x="197.10" y="258.20" fill="url(#me)"/></g>
<g filter="url(#tx)"><use href="#ms" x="209.75" y="258.20" fill="url(#mg)"/><use href="#ms" x="209.75" y="258.20" fill="url(#me)"/></g>
<ellipse cx="166.60" cy="285.00" rx="1.0" ry="0.9" fill="#f0f0f0"/><ellipse cx="179.25" cy="285.00" rx="1.0" ry="0.9" fill="#f0f0f0"/><ellipse cx="191.90" cy="285.00" rx="1.0" ry="0.9" fill="#f0f0f0"/><ellipse cx="204.55" cy="285.00" rx="1.0" ry="0.9" fill="#f0f0f0"/>
<clipPath id="cp2_0"><rect x="165.2" y="258.2" width="51.0" height="28.7"/></clipPath>
<g clip-path="url(#cp2_0)"><g filter="url(#heat)"><use href="#ms" x="171.80" y="258.20" fill="#fff" opacity="0.20"/><ellipse cx="171.80" cy="268.70" rx="2.00" ry="2.50" fill="url(#hg)" opacity="0.10"/><ellipse cx="171.80" cy="264.60" rx="3.50" ry="4.10" fill="url(#hg)" opacity="0.96"/><ellipse cx="171.60" cy="277.70" rx="4.10" ry="10.50" fill="url(#hg)" opacity="0.55"/><ellipse cx="171.60" cy="285.20" rx="1.80" ry="3.00" fill="url(#hg)" opacity="0.44"/><ellipse cx="174.40" cy="277.40" rx="1.60" ry="1.80" fill="url(#hg)" opacity="0.90"/><ellipse cx="170.30" cy="275.20" rx="1.50" ry="3.50" fill="url(#hg)" opacity="0.68"/><use href="#ms" x="184.45" y="258.20" fill="#fff" opacity="0.20"/><ellipse cx="184.45" cy="268.70" rx="2.00" ry="2.50" fill="url(#hg)" opacity="0.10"/><ellipse cx="184.45" cy="264.60" rx="3.50" ry="4.10" fill="url(#hg)" opacity="0.78"/><ellipse cx="184.25" cy="277.70" rx="4.10" ry="10.50" fill="url(#hg)" opacity="0.54"/><ellipse cx="184.25" cy="285.20" rx="1.80" ry="3.00" fill="url(#hg)" opacity="0.43"/><ellipse cx="181.25" cy="277.70" rx="1.50" ry="1.50" fill="url(#hg)" opacity="0.72"/><ellipse cx="184.65" cy="279.20" rx="1.30" ry="5.00" fill="url(#hg)" opacity="0.64"/><use href="#ms" x="197.10" y="258.20" fill="#fff" opacity="0.20"/><ellipse cx="197.10" cy="268.70" rx="2.00" ry="2.50" fill="url(#hg)" opacity="0.10"/><ellipse cx="197.10" cy="264.60" rx="3.50" ry="4.10" fill="url(#hg)" opacity="0.82"/><ellipse cx="196.90" cy="277.70" rx="4.10" ry="10.50" fill="url(#hg)" opacity="0.55"/><ellipse cx="196.90" cy="285.20" rx="1.80" ry="3.00" fill="url(#hg)" opacity="0.44"/><ellipse cx="196.90" cy="277.70" rx="1.40" ry="2.50" fill="url(#hg)" opacity="0.84"/><use href="#ms" x="209.75" y="258.20" fill="#fff" opacity="0.20"/><ellipse cx="209.75" cy="268.70" rx="2.00" ry="2.50" fill="url(#hg)" opacity="0.10"/><ellipse cx="209.75" cy="264.60" rx="3.50" ry="4.10" fill="url(#hg)" opacity="0.94"/><ellipse cx="209.55" cy="277.70" rx="4.10" ry="10.50" fill="url(#hg)" opacity="0.56"/><ellipse cx="209.55" cy="285.20" rx="1.80" ry="3.00" fill="url(#hg)" opacity="0.45"/><ellipse cx="209.55" cy="276.70" rx="1.50" ry="4.00" fill="url(#hg)" opacity="0.95"/></g></g>
<rect x="60.9" y="288.3" width="51.0" height="28.7" fill="#242424"/>
<line x1="73.65" y1="288.3" x2="73.65" y2="317.0" stroke="#3a3a3a" stroke-width="0.6"/>
<line x1="86.40" y1="288.3" x2="86.40" y2="317.0" stroke="#3a3a3a" stroke-width="0.6"/>
<line x1="99.15" y1="288.3" x2="99.15" y2="317.0" stroke="#3a3a3a" stroke-width="0.6"/>
<g filter="url(#tx)"><use href="#ms" x="67.50" y="288.30" fill="url(#mg)"/><use href="#ms" x="67.50" y="288.30" fill="url(#me)"/></g>
<g filter="url(#tx)"><use href="#ms" x="80.15" y="288.30" fill="url(#mg)"/><use href="#ms" x="80.15" y="288.30" fill="url(#me)"/></g>
<g filter="url(#tx)"><use href="#ms" x="92.80" y="288.30" fill="url(#mg)"/><use href="#ms" x="92.80" y="288.30" fill="url(#me)"/></g>
<g filter="url(#tx)"><use href="#ms" x="105.45" y="288.30" fill="url(#mg)"/><use href="#ms" x="105.45" y="288.30" fill="url(#me)"/></g>
<rect x="113.2" y="288.3" width="51.0" height="28.7" fill="#242424"/>
<line x1="125.95" y1="288.3" x2="125.95" y2="317.0" stroke="#3a3a3a" stroke-width="0.6"/>
<line x1="138.70" y1="288.3" x2="138.70" y2="317.0" stroke="#3a3a3a" stroke-width="0.6"/>
<line x1="151.45" y1="288.3" x2="151.45" y2="317.0" stroke="#3a3a3a" stroke-width="0.6"/>
<g filter="url(#tx)"><use href="#ms" x="119.80" y="288.30" fill="url(#mg)"/><use href="#ms" x="119.80" y="288.30" fill="url(#me)"/></g>
<g filter="url(#tx)"><use href="#ms" x="132.45" y="288.30" fill="url(#mg)"/><use href="#ms" x="132.45" y="288.30" fill="url(#me)"/></g>
<g filter="url(#tx)"><use href="#ms" x="145.10" y="288.30" fill="url(#mg)"/><use href="#ms" x="145.10" y="288.30" fill="url(#me)"/></g>
<g filter="url(#tx)"><use href="#ms" x="157.75" y="288.30" fill="url(#mg)"/><use href="#ms" x="157.75" y="288.30" fill="url(#me)"/></g>
<ellipse cx="116.80" cy="300.30" rx="1.9" ry="3.6" fill="#f4f4f4" filter="url(#bl)"/><ellipse cx="122.80" cy="300.30" rx="1.9" ry="3.6" fill="#f4f4f4" filter="url(#bl)"/><ellipse cx="129.45" cy="300.30" rx="1.9" ry="3.6" fill="#f4f4f4" filter="url(#bl)"/><ellipse cx="135.45" cy="300.30" rx="1.9" ry="3.6" fill="#f4f4f4" filter="url(#bl)"/><ellipse cx="142.10" cy="300.30" rx="1.9" ry="3.6" fill="#f4f4f4" filter="url(#bl)"/><ellipse cx="148.10" cy="300.30" rx="1.9" ry="3.6" fill="#f4f4f4" filter="url(#bl)"/><ellipse cx="154.75" cy="300.30" rx="1.9" ry="3.6" fill="#f4f4f4" filter="url(#bl)"/><ellipse cx="160.75" cy="300.30" rx="1.9" ry="3.6" fill="#f4f4f4" filter="url(#bl)"/>
<clipPath id="cp1_1"><rect x="113.2" y="288.3" width="51.0" height="28.7"/></clipPath>
<g clip-path="url(#cp1_1)"><g filter="url(#heat)"><ellipse cx="119.80" cy="294.60" rx="3.40" ry="4.40" fill="url(#hg)" opacity="0.30"/><ellipse cx="119.80" cy="298.80" rx="1.80" ry="2.60" fill="url(#hg)" opacity="0.14"/><ellipse cx="119.80" cy="309.30" rx="6.20" ry="10.00" fill="url(#hg)" opacity="0.10"/><ellipse cx="119.60" cy="308.80" rx="4.20" ry="9.50" fill="url(#hg)" opacity="0.22"/><ellipse cx="119.60" cy="315.10" rx="7.00" ry="3.40" fill="url(#hg)" opacity="0.18"/><ellipse cx="119.60" cy="308.30" rx="1.30" ry="6.50" fill="url(#hg)" opacity="0.26"/><ellipse cx="119.00" cy="302.80" rx="1.20" ry="2.20" fill="url(#hg)" opacity="0.60"/><ellipse cx="132.45" cy="294.60" rx="3.40" ry="4.40" fill="url(#hg)" opacity="0.30"/><ellipse cx="132.45" cy="298.80" rx="1.80" ry="2.60" fill="url(#hg)" opacity="0.14"/><ellipse cx="132.45" cy="309.30" rx="6.20" ry="10.00" fill="url(#hg)" opacity="0.10"/><ellipse cx="132.25" cy="308.80" rx="4.20" ry="9.50" fill="url(#hg)" opacity="0.22"/><ellipse cx="132.25" cy="315.10" rx="7.00" ry="3.40" fill="url(#hg)" opacity="0.18"/><ellipse cx="132.25" cy="308.30" rx="1.30" ry="6.50" fill="url(#hg)" opacity="0.26"/><ellipse cx="145.10" cy="294.60" rx="3.40" ry="4.40" fill="url(#hg)" opacity="0.30"/><ellipse cx="145.10" cy="298.80" rx="1.80" ry="2.60" fill="url(#hg)" opacity="0.14"/><ellipse cx="145.10" cy="309.30" rx="6.20" ry="10.00" fill="url(#hg)" opacity="0.10"/><ellipse cx="144.90" cy="308.80" rx="4.20" ry="9.50" fill="url(#hg)" opacity="0.22"/><ellipse cx="144.90" cy="315.10" rx="7.00" ry="3.40" fill="url(#hg)" opacity="0.18"/><ellipse cx="144.90" cy="308.30" rx="1.30" ry="6.50" fill="url(#hg)" opacity="0.28"/><ellipse cx="145.40" cy="307.80" rx="1.20" ry="3.20" fill="url(#hg)" opacity="0.62"/><ellipse cx="157.75" cy="294.60" rx="3.40" ry="4.40" fill="url(#hg)" opacity="0.30"/><ellipse cx="157.75" cy="298.80" rx="1.80" ry="2.60" fill="url(#hg)" opacity="0.14"/><ellipse cx="157.75" cy="309.30" rx="6.20" ry="10.00" fill="url(#hg)" opacity="0.10"/><ellipse cx="157.55" cy="308.80" rx="4.20" ry="9.50" fill="url(#hg)" opacity="0.20"/><ellipse cx="157.55" cy="315.10" rx="7.00" ry="3.40" fill="url(#hg)" opacity="0.18"/><ellipse cx="157.55" cy="308.30" rx="1.30" ry="6.50" fill="url(#hg)" opacity="0.20"/></g></g>
<rect x="165.2" y="288.3" width="51.0" height="28.7" fill="#242424"/>
<line x1="177.95" y1="288.3" x2="177.95" y2="317.0" stroke="#3a3a3a" stroke-width="0.6"/>
<line x1="190.70" y1="288.3" x2="190.70" y2="317.0" stroke="#3a3a3a" stroke-width="0.6"/>
<line x1="203.45" y1="288.3" x2="203.45" y2="317.0" stroke="#3a3a3a" stroke-width="0.6"/>
<g filter="url(#tx)"><use href="#ms" x="171.80" y="288.30" fill="url(#mg)"/><use href="#ms" x="171.80" y="288.30" fill="url(#me)"/></g>
<g filter="url(#tx)"><use href="#ms" x="184.45" y="288.30" fill="url(#mg)"/><use href="#ms" x="184.45" y="288.30" fill="url(#me)"/></g>
<g filter="url(#tx)"><use href="#ms" x="197.10" y="288.30" fill="url(#mg)"/><use href="#ms" x="197.10" y="288.30" fill="url(#me)"/></g>
<g filter="url(#tx)"><use href="#ms" x="209.75" y="288.30" fill="url(#mg)"/><use href="#ms" x="209.75" y="288.30" fill="url(#me)"/></g>
<ellipse cx="166.60" cy="315.10" rx="1.0" ry="0.9" fill="#f0f0f0"/><ellipse cx="179.25" cy="315.10" rx="1.0" ry="0.9" fill="#f0f0f0"/><ellipse cx="191.90" cy="315.10" rx="1.0" ry="0.9" fill="#f0f0f0"/><ellipse cx="204.55" cy="315.10" rx="1.0" ry="0.9" fill="#f0f0f0"/>
<clipPath id="cp2_1"><rect x="165.2" y="288.3" width="51.0" height="28.7"/></clipPath>
<g clip-path="url(#cp2_1)"><g filter="url(#heat)"><use href="#ms" x="171.80" y="288.30" fill="#fff" opacity="0.20"/><ellipse cx="171.80" cy="298.80" rx="2.00" ry="2.50" fill="url(#hg)" opacity="0.10"/><ellipse cx="171.80" cy="294.70" rx="3.50" ry="4.10" fill="url(#hg)" opacity="0.82"/><ellipse cx="171.60" cy="307.80" rx="4.10" ry="10.50" fill="url(#hg)" opacity="0.58"/><ellipse cx="171.60" cy="315.30" rx="1.80" ry="3.00" fill="url(#hg)" opacity="0.46"/><ellipse cx="171.50" cy="304.80" rx="1.80" ry="4.50" fill="url(#hg)" opacity="0.98"/><use href="#ms" x="184.45" y="288.30" fill="#fff" opacity="0.20"/><ellipse cx="184.45" cy="298.80" rx="2.00" ry="2.50" fill="url(#hg)" opacity="0.10"/><ellipse cx="184.45" cy="294.70" rx="3.50" ry="4.10" fill="url(#hg)" opacity="0.78"/><ellipse cx="184.25" cy="307.80" rx="4.10" ry="10.50" fill="url(#hg)" opacity="0.55"/><ellipse cx="184.25" cy="315.30" rx="1.80" ry="3.00" fill="url(#hg)" opacity="0.44"/><ellipse cx="182.95" cy="304.80" rx="1.20" ry="2.00" fill="url(#hg)" opacity="0.88"/><use href="#ms" x="197.10" y="288.30" fill="#fff" opacity="0.20"/><ellipse cx="197.10" cy="298.80" rx="2.00" ry="2.50" fill="url(#hg)" opacity="0.10"/><ellipse cx="197.10" cy="294.70" rx="3.50" ry="4.10" fill="url(#hg)" opacity="0.97"/><ellipse cx="196.90" cy="307.80" rx="4.10" ry="10.50" fill="url(#hg)" opacity="0.59"/><ellipse cx="196.90" cy="315.30" rx="1.80" ry="3.00" fill="url(#hg)" opacity="0.47"/><ellipse cx="197.30" cy="305.80" rx="1.60" ry="5.50" fill="url(#hg)" opacity="0.98"/><ellipse cx="193.10" cy="307.30" rx="1.50" ry="1.80" fill="url(#hg)" opacity="0.80"/><use href="#ms" x="209.75" y="288.30" fill="#fff" opacity="0.20"/><ellipse cx="209.75" cy="298.80" rx="2.00" ry="2.50" fill="url(#hg)" opacity="0.10"/><ellipse cx="209.75" cy="294.70" rx="3.50" ry="4.10" fill="url(#hg)" opacity="0.84"/><ellipse cx="209.55" cy="307.80" rx="4.10" ry="10.50" fill="url(#hg)" opacity="0.56"/><ellipse cx="209.55" cy="315.30" rx="1.80" ry="3.00" fill="url(#hg)" opacity="0.45"/><ellipse cx="208.95" cy="305.80" rx="1.50" ry="2.60" fill="url(#hg)" opacity="0.90"/></g></g>
<rect x="60.9" y="318.8" width="51.0" height="28.7" fill="#242424"/>
<line x1="73.65" y1="318.8" x2="73.65" y2="347.5" stroke="#3a3a3a" stroke-width="0.6"/>
<line x1="86.40" y1="318.8" x2="86.40" y2="347.5" stroke="#3a3a3a" stroke-width="0.6"/>
<line x1="99.15" y1="318.8" x2="99.15" y2="347.5" stroke="#3a3a3a" stroke-width="0.6"/>
<g filter="url(#tx)"><use href="#ms" x="67.50" y="318.80" fill="url(#mg)"/><use href="#ms" x="67.50" y="318.80" fill="url(#me)"/></g>
<g filter="url(#tx)"><use href="#ms" x="80.15" y="318.80" fill="url(#mg)"/><use href="#ms" x="80.15" y="318.80" fill="url(#me)"/></g>
<g filter="url(#tx)"><use href="#ms" x="92.80" y="318.80" fill="url(#mg)"/><use href="#ms" x="92.80" y="318.80" fill="url(#me)"/></g>
<g filter="url(#tx)"><use href="#ms" x="105.45" y="318.80" fill="url(#mg)"/><use href="#ms" x="105.45" y="318.80" fill="url(#me)"/></g>
<rect x="113.2" y="318.8" width="51.0" height="28.7" fill="#242424"/>
<line x1="125.95" y1="318.8" x2="125.95" y2="347.5" stroke="#3a3a3a" stroke-width="0.6"/>
<line x1="138.70" y1="318.8" x2="138.70" y2="347.5" stroke="#3a3a3a" stroke-width="0.6"/>
<line x1="151.45" y1="318.8" x2="151.45" y2="347.5" stroke="#3a3a3a" stroke-width="0.6"/>
<g filter="url(#tx)"><use href="#ms" x="119.80" y="318.80" fill="url(#mg)"/><use href="#ms" x="119.80" y="318.80" fill="url(#me)"/></g>
<g filter="url(#tx)"><use href="#ms" x="132.45" y="318.80" fill="url(#mg)"/><use href="#ms" x="132.45" y="318.80" fill="url(#me)"/></g>
<g filter="url(#tx)"><use href="#ms" x="145.10" y="318.80" fill="url(#mg)"/><use href="#ms" x="145.10" y="318.80" fill="url(#me)"/></g>
<g filter="url(#tx)"><use href="#ms" x="157.75" y="318.80" fill="url(#mg)"/><use href="#ms" x="157.75" y="318.80" fill="url(#me)"/></g>
<rect x="165.2" y="318.8" width="51.0" height="28.7" fill="#242424"/>
<line x1="177.95" y1="318.8" x2="177.95" y2="347.5" stroke="#3a3a3a" stroke-width="0.6"/>
<line x1="190.70" y1="318.8" x2="190.70" y2="347.5" stroke="#3a3a3a" stroke-width="0.6"/>
<line x1="203.45" y1="318.8" x2="203.45" y2="347.5" stroke="#3a3a3a" stroke-width="0.6"/>
<g filter="url(#tx)"><use href="#ms" x="171.80" y="318.80" fill="url(#mg)"/><use href="#ms" x="171.80" y="318.80" fill="url(#me)"/></g>
<g filter="url(#tx)"><use href="#ms" x="184.45" y="318.80" fill="url(#mg)"/><use href="#ms" x="184.45" y="318.80" fill="url(#me)"/></g>
<g filter="url(#tx)"><use href="#ms" x="197.10" y="318.80" fill="url(#mg)"/><use href="#ms" x="197.10" y="318.80" fill="url(#me)"/></g>
<g filter="url(#tx)"><use href="#ms" x="209.75" y="318.80" fill="url(#mg)"/><use href="#ms" x="209.75" y="318.80" fill="url(#me)"/></g>
<rect x="218.0" y="318.8" width="51.0" height="28.7" fill="#242424"/>
<line x1="230.75" y1="318.8" x2="230.75" y2="347.5" stroke="#3a3a3a" stroke-width="0.6"/>
<line x1="243.50" y1="318.8" x2="243.50" y2="347.5" stroke="#3a3a3a" stroke-width="0.6"/>
<line x1="256.25" y1="318.8" x2="256.25" y2="347.5" stroke="#3a3a3a" stroke-width="0.6"/>
<g filter="url(#tx)"><use href="#ms" x="224.60" y="318.80" fill="url(#mg)"/><use href="#ms" x="224.60" y="318.80" fill="url(#me)"/></g>
<g filter="url(#tx)"><use href="#ms" x="237.25" y="318.80" fill="url(#mg)"/><use href="#ms" x="237.25" y="318.80" fill="url(#me)"/></g>
<g filter="url(#tx)"><use href="#ms" x="249.90" y="318.80" fill="url(#mg)"/><use href="#ms" x="249.90" y="318.80" fill="url(#me)"/></g>
<g filter="url(#tx)"><use href="#ms" x="262.55" y="318.80" fill="url(#mg)"/><use href="#ms" x="262.55" y="318.80" fill="url(#me)"/></g>
<rect x="270.1" y="318.8" width="51.0" height="28.7" fill="#242424"/>
<line x1="282.85" y1="318.8" x2="282.85" y2="347.5" stroke="#3a3a3a" stroke-width="0.6"/>
<line x1="295.60" y1="318.8" x2="295.60" y2="347.5" stroke="#3a3a3a" stroke-width="0.6"/>
<line x1="308.35" y1="318.8" x2="308.35" y2="347.5" stroke="#3a3a3a" stroke-width="0.6"/>
<g filter="url(#tx)"><use href="#ms" x="276.70" y="318.80" fill="url(#mg)"/><use href="#ms" x="276.70" y="318.80" fill="url(#me)"/></g>
<g filter="url(#tx)"><use href="#ms" x="289.35" y="318.80" fill="url(#mg)"/><use href="#ms" x="289.35" y="318.80" fill="url(#me)"/></g>
<g filter="url(#tx)"><use href="#ms" x="302.00" y="318.80" fill="url(#mg)"/><use href="#ms" x="302.00" y="318.80" fill="url(#me)"/></g>
<g filter="url(#tx)"><use href="#ms" x="314.65" y="318.80" fill="url(#mg)"/><use href="#ms" x="314.65" y="318.80" fill="url(#me)"/></g>

<clipPath id="cp4_2"><rect x="270.1" y="318.8" width="51.0" height="28.7"/></clipPath>
<g clip-path="url(#cp4_2)"><g filter="url(#heat)"><ellipse cx="283.50" cy="341.60" rx="2.00" ry="2.00" fill="url(#hg)" opacity="0.17"/><ellipse cx="301.20" cy="322.60" rx="1.50" ry="1.50" fill="url(#hg)" opacity="0.14"/><ellipse cx="307.60" cy="342.30" rx="1.50" ry="1.50" fill="url(#hg)" opacity="0.14"/><ellipse cx="314.10" cy="325.50" rx="1.80" ry="1.80" fill="url(#hg)" opacity="0.17"/><ellipse cx="314.60" cy="338.60" rx="1.80" ry="1.80" fill="url(#hg)" opacity="0.17"/></g></g>
<rect x="322.4" y="318.8" width="51.0" height="28.7" fill="#242424"/>
<line x1="335.15" y1="318.8" x2="335.15" y2="347.5" stroke="#3a3a3a" stroke-width="0.6"/>
<line x1="347.90" y1="318.8" x2="347.90" y2="347.5" stroke="#3a3a3a" stroke-width="0.6"/>
<line x1="360.65" y1="318.8" x2="360.65" y2="347.5" stroke="#3a3a3a" stroke-width="0.6"/>
<g filter="url(#tx)"><use href="#ms" x="329.00" y="318.80" fill="url(#mg)"/><use href="#ms" x="329.00" y="318.80" fill="url(#me)"/></g>
<g filter="url(#tx)"><use href="#ms" x="341.65" y="318.80" fill="url(#mg)"/><use href="#ms" x="341.65" y="318.80" fill="url(#me)"/></g>
<g filter="url(#tx)"><use href="#ms" x="354.30" y="318.80" fill="url(#mg)"/><use href="#ms" x="354.30" y="318.80" fill="url(#me)"/></g>
<g filter="url(#tx)"><use href="#ms" x="366.95" y="318.80" fill="url(#mg)"/><use href="#ms" x="366.95" y="318.80" fill="url(#me)"/></g>

<clipPath id="cp5_2"><rect x="322.4" y="318.8" width="51.0" height="28.7"/></clipPath>
<g clip-path="url(#cp5_2)"><g filter="url(#heat)"><ellipse cx="329.10" cy="325.20" rx="2.00" ry="1.90" fill="url(#hg)" opacity="0.26"/><ellipse cx="343.20" cy="324.40" rx="1.40" ry="1.40" fill="url(#hg)" opacity="0.15"/><ellipse cx="341.70" cy="335.30" rx="2.60" ry="2.60" fill="url(#hg)" opacity="0.27"/><ellipse cx="342.00" cy="339.60" rx="2.90" ry="2.60" fill="url(#hg)" opacity="0.30"/><ellipse cx="337.00" cy="340.10" rx="2.00" ry="1.80" fill="url(#hg)" opacity="0.24"/><ellipse cx="347.00" cy="341.40" rx="1.80" ry="1.80" fill="url(#hg)" opacity="0.20"/><ellipse cx="353.80" cy="322.10" rx="2.40" ry="2.40" fill="url(#hg)" opacity="0.28"/><ellipse cx="351.70" cy="339.80" rx="2.00" ry="1.80" fill="url(#hg)" opacity="0.24"/><ellipse cx="366.80" cy="324.80" rx="2.90" ry="3.70" fill="url(#hg)" opacity="0.45"/><ellipse cx="366.30" cy="337.80" rx="3.20" ry="3.00" fill="url(#hg)" opacity="0.30"/></g></g>
<rect x="374.5" y="318.8" width="51.0" height="28.7" fill="#242424"/>
<line x1="387.25" y1="318.8" x2="387.25" y2="347.5" stroke="#3a3a3a" stroke-width="0.6"/>
<line x1="400.00" y1="318.8" x2="400.00" y2="347.5" stroke="#3a3a3a" stroke-width="0.6"/>
<line x1="412.75" y1="318.8" x2="412.75" y2="347.5" stroke="#3a3a3a" stroke-width="0.6"/>
<g filter="url(#tx)"><use href="#ms" x="381.10" y="318.80" fill="url(#mg)"/><use href="#ms" x="381.10" y="318.80" fill="url(#me)"/></g>
<g filter="url(#tx)"><use href="#ms" x="393.75" y="318.80" fill="url(#mg)"/><use href="#ms" x="393.75" y="318.80" fill="url(#me)"/></g>
<g filter="url(#tx)"><use href="#ms" x="406.40" y="318.80" fill="url(#mg)"/><use href="#ms" x="406.40" y="318.80" fill="url(#me)"/></g>
<g filter="url(#tx)"><use href="#ms" x="419.05" y="318.80" fill="url(#mg)"/><use href="#ms" x="419.05" y="318.80" fill="url(#me)"/></g>

<clipPath id="cp6_2"><rect x="374.5" y="318.8" width="51.0" height="28.7"/></clipPath>
<g clip-path="url(#cp6_2)"><g filter="url(#heat)"><ellipse cx="381.20" cy="324.40" rx="3.60" ry="3.60" fill="url(#hg)" opacity="0.42"/><ellipse cx="379.50" cy="338.00" rx="3.00" ry="2.40" fill="url(#hg)" opacity="0.26"/><ellipse cx="380.20" cy="341.50" rx="1.80" ry="1.60" fill="url(#hg)" opacity="0.22"/><path d="M387.00,346.7 C387.30,340.8 390.00,335.8 390.80,330.8 C391.80,329.3 393.80,329.3 394.80,330.8 C395.60,335.8 398.30,340.8 398.60,346.7 Z" fill="#fff" opacity="0.13"/><ellipse cx="393.20" cy="322.50" rx="3.00" ry="3.80" fill="url(#hg)" opacity="0.40"/><ellipse cx="392.60" cy="336.50" rx="3.60" ry="10.00" fill="url(#hg)" opacity="0.42"/><ellipse cx="392.40" cy="339.00" rx="1.60" ry="4.50" fill="url(#hg)" opacity="0.62"/><ellipse cx="392.60" cy="345.50" rx="6.50" ry="2.60" fill="url(#hg)" opacity="0.22"/><ellipse cx="406.20" cy="322.30" rx="3.80" ry="3.80" fill="url(#hg)" opacity="0.85"/><ellipse cx="404.30" cy="338.80" rx="5.20" ry="4.40" fill="url(#hg)" opacity="0.28"/><ellipse cx="407.20" cy="334.50" rx="2.00" ry="2.60" fill="url(#hg)" opacity="0.24"/><ellipse cx="404.50" cy="344.50" rx="5.00" ry="2.50" fill="url(#hg)" opacity="0.18"/><ellipse cx="418.50" cy="324.60" rx="4.80" ry="4.80" fill="url(#hg)" opacity="0.98"/><ellipse cx="418.30" cy="338.50" rx="4.40" ry="7.00" fill="url(#hg)" opacity="0.50"/><ellipse cx="418.30" cy="344.50" rx="6.50" ry="3.00" fill="url(#hg)" opacity="0.20"/></g></g>
<rect x="426.7" y="318.8" width="51.0" height="28.7" fill="#242424"/>
<line x1="439.45" y1="318.8" x2="439.45" y2="347.5" stroke="#3a3a3a" stroke-width="0.6"/>
<line x1="452.20" y1="318.8" x2="452.20" y2="347.5" stroke="#3a3a3a" stroke-width="0.6"/>
<line x1="464.95" y1="318.8" x2="464.95" y2="347.5" stroke="#3a3a3a" stroke-width="0.6"/>
<g filter="url(#tx)"><use href="#ms" x="433.30" y="318.80" fill="url(#mg)"/><use href="#ms" x="433.30" y="318.80" fill="url(#me)"/></g>
<rect x="439.65" y="318.8" width="12.6" height="28.7" fill="#353535"/>
<rect x="445.35" y="321.2" width="1.2" height="1.4" fill="#9a9a9a"/>
<rect x="452.30" y="318.8" width="12.6" height="28.7" fill="#353535"/>
<rect x="458.00" y="321.2" width="1.2" height="1.4" fill="#9a9a9a"/>
<rect x="464.95" y="318.8" width="12.6" height="28.7" fill="#353535"/>
<rect x="470.65" y="321.2" width="1.2" height="1.4" fill="#9a9a9a"/>

<clipPath id="cp7_2"><rect x="426.7" y="318.8" width="51.0" height="28.7"/></clipPath>
<g clip-path="url(#cp7_2)"><g filter="url(#heat)"><use href="#ms" x="433.30" y="318.80" fill="#fff" opacity="0.22"/><ellipse cx="431.60" cy="323.80" rx="5.00" ry="5.80" fill="url(#hg)" opacity="0.98"/><ellipse cx="431.20" cy="336.00" rx="3.80" ry="9.00" fill="url(#hg)" opacity="0.55"/><ellipse cx="431.60" cy="339.70" rx="3.00" ry="3.40" fill="url(#hg)" opacity="0.98"/></g></g>
<rect x="60.9" y="350.0" width="51.0" height="28.7" fill="#242424"/>
<line x1="73.65" y1="350.0" x2="73.65" y2="378.7" stroke="#3a3a3a" stroke-width="0.6"/>
<line x1="86.40" y1="350.0" x2="86.40" y2="378.7" stroke="#3a3a3a" stroke-width="0.6"/>
<line x1="99.15" y1="350.0" x2="99.15" y2="378.7" stroke="#3a3a3a" stroke-width="0.6"/>
<g filter="url(#tx)"><use href="#ms" x="67.50" y="350.00" fill="url(#mg)"/><use href="#ms" x="67.50" y="350.00" fill="url(#me)"/></g>
<g filter="url(#tx)"><use href="#ms" x="80.15" y="350.00" fill="url(#mg)"/><use href="#ms" x="80.15" y="350.00" fill="url(#me)"/></g>
<g filter="url(#tx)"><use href="#ms" x="92.80" y="350.00" fill="url(#mg)"/><use href="#ms" x="92.80" y="350.00" fill="url(#me)"/></g>
<g filter="url(#tx)"><use href="#ms" x="105.45" y="350.00" fill="url(#mg)"/><use href="#ms" x="105.45" y="350.00" fill="url(#me)"/></g>
<rect x="113.2" y="350.0" width="51.0" height="28.7" fill="#242424"/>
<line x1="125.95" y1="350.0" x2="125.95" y2="378.7" stroke="#3a3a3a" stroke-width="0.6"/>
<line x1="138.70" y1="350.0" x2="138.70" y2="378.7" stroke="#3a3a3a" stroke-width="0.6"/>
<line x1="151.45" y1="350.0" x2="151.45" y2="378.7" stroke="#3a3a3a" stroke-width="0.6"/>
<g filter="url(#tx)"><use href="#ms" x="119.80" y="350.00" fill="url(#mg)"/><use href="#ms" x="119.80" y="350.00" fill="url(#me)"/></g>
<g filter="url(#tx)"><use href="#ms" x="132.45" y="350.00" fill="url(#mg)"/><use href="#ms" x="132.45" y="350.00" fill="url(#me)"/></g>
<g filter="url(#tx)"><use href="#ms" x="145.10" y="350.00" fill="url(#mg)"/><use href="#ms" x="145.10" y="350.00" fill="url(#me)"/></g>
<g filter="url(#tx)"><use href="#ms" x="157.75" y="350.00" fill="url(#mg)"/><use href="#ms" x="157.75" y="350.00" fill="url(#me)"/></g>
<rect x="165.2" y="350.0" width="51.0" height="28.7" fill="#242424"/>
<line x1="177.95" y1="350.0" x2="177.95" y2="378.7" stroke="#3a3a3a" stroke-width="0.6"/>
<line x1="190.70" y1="350.0" x2="190.70" y2="378.7" stroke="#3a3a3a" stroke-width="0.6"/>
<line x1="203.45" y1="350.0" x2="203.45" y2="378.7" stroke="#3a3a3a" stroke-width="0.6"/>
<g filter="url(#tx)"><use href="#ms" x="171.80" y="350.00" fill="url(#mg)"/><use href="#ms" x="171.80" y="350.00" fill="url(#me)"/></g>
<g filter="url(#tx)"><use href="#ms" x="184.45" y="350.00" fill="url(#mg)"/><use href="#ms" x="184.45" y="350.00" fill="url(#me)"/></g>
<g filter="url(#tx)"><use href="#ms" x="197.10" y="350.00" fill="url(#mg)"/><use href="#ms" x="197.10" y="350.00" fill="url(#me)"/></g>
<g filter="url(#tx)"><use href="#ms" x="209.75" y="350.00" fill="url(#mg)"/><use href="#ms" x="209.75" y="350.00" fill="url(#me)"/></g>
<rect x="218.0" y="350.0" width="51.0" height="28.7" fill="#242424"/>
<line x1="230.75" y1="350.0" x2="230.75" y2="378.7" stroke="#3a3a3a" stroke-width="0.6"/>
<line x1="243.50" y1="350.0" x2="243.50" y2="378.7" stroke="#3a3a3a" stroke-width="0.6"/>
<line x1="256.25" y1="350.0" x2="256.25" y2="378.7" stroke="#3a3a3a" stroke-width="0.6"/>
<g filter="url(#tx)"><use href="#ms" x="224.60" y="350.00" fill="url(#mg)"/><use href="#ms" x="224.60" y="350.00" fill="url(#me)"/></g>
<g filter="url(#tx)"><use href="#ms" x="237.25" y="350.00" fill="url(#mg)"/><use href="#ms" x="237.25" y="350.00" fill="url(#me)"/></g>
<g filter="url(#tx)"><use href="#ms" x="249.90" y="350.00" fill="url(#mg)"/><use href="#ms" x="249.90" y="350.00" fill="url(#me)"/></g>
<g filter="url(#tx)"><use href="#ms" x="262.55" y="350.00" fill="url(#mg)"/><use href="#ms" x="262.55" y="350.00" fill="url(#me)"/></g>
<rect x="270.1" y="350.0" width="51.0" height="28.7" fill="#242424"/>
<line x1="282.85" y1="350.0" x2="282.85" y2="378.7" stroke="#3a3a3a" stroke-width="0.6"/>
<line x1="295.60" y1="350.0" x2="295.60" y2="378.7" stroke="#3a3a3a" stroke-width="0.6"/>
<line x1="308.35" y1="350.0" x2="308.35" y2="378.7" stroke="#3a3a3a" stroke-width="0.6"/>
<g filter="url(#tx)"><use href="#ms" x="276.70" y="350.00" fill="url(#mg)"/><use href="#ms" x="276.70" y="350.00" fill="url(#me)"/></g>
<g filter="url(#tx)"><use href="#ms" x="289.35" y="350.00" fill="url(#mg)"/><use href="#ms" x="289.35" y="350.00" fill="url(#me)"/></g>
<g filter="url(#tx)"><use href="#ms" x="302.00" y="350.00" fill="url(#mg)"/><use href="#ms" x="302.00" y="350.00" fill="url(#me)"/></g>
<g filter="url(#tx)"><use href="#ms" x="314.65" y="350.00" fill="url(#mg)"/><use href="#ms" x="314.65" y="350.00" fill="url(#me)"/></g>
<rect x="322.4" y="350.0" width="51.0" height="28.7" fill="#242424"/>
<line x1="335.15" y1="350.0" x2="335.15" y2="378.7" stroke="#3a3a3a" stroke-width="0.6"/>
<line x1="347.90" y1="350.0" x2="347.90" y2="378.7" stroke="#3a3a3a" stroke-width="0.6"/>
<line x1="360.65" y1="350.0" x2="360.65" y2="378.7" stroke="#3a3a3a" stroke-width="0.6"/>
<g filter="url(#tx)"><use href="#ms" x="329.00" y="350.00" fill="url(#mg)"/><use href="#ms" x="329.00" y="350.00" fill="url(#me)"/></g>
<g filter="url(#tx)"><use href="#ms" x="341.65" y="350.00" fill="url(#mg)"/><use href="#ms" x="341.65" y="350.00" fill="url(#me)"/></g>
<g filter="url(#tx)"><use href="#ms" x="354.30" y="350.00" fill="url(#mg)"/><use href="#ms" x="354.30" y="350.00" fill="url(#me)"/></g>
<g filter="url(#tx)"><use href="#ms" x="366.95" y="350.00" fill="url(#mg)"/><use href="#ms" x="366.95" y="350.00" fill="url(#me)"/></g>
<rect x="374.5" y="350.0" width="51.0" height="28.7" fill="#242424"/>
<line x1="387.25" y1="350.0" x2="387.25" y2="378.7" stroke="#3a3a3a" stroke-width="0.6"/>
<line x1="400.00" y1="350.0" x2="400.00" y2="378.7" stroke="#3a3a3a" stroke-width="0.6"/>
<line x1="412.75" y1="350.0" x2="412.75" y2="378.7" stroke="#3a3a3a" stroke-width="0.6"/>
<g filter="url(#tx)"><use href="#ms" x="381.10" y="350.00" fill="url(#mg)"/><use href="#ms" x="381.10" y="350.00" fill="url(#me)"/></g>
<g filter="url(#tx)"><use href="#ms" x="393.75" y="350.00" fill="url(#mg)"/><use href="#ms" x="393.75" y="350.00" fill="url(#me)"/></g>
<g filter="url(#tx)"><use href="#ms" x="406.40" y="350.00" fill="url(#mg)"/><use href="#ms" x="406.40" y="350.00" fill="url(#me)"/></g>
<g filter="url(#tx)"><use href="#ms" x="419.05" y="350.00" fill="url(#mg)"/><use href="#ms" x="419.05" y="350.00" fill="url(#me)"/></g>

<clipPath id="cp6_3"><rect x="374.5" y="350.0" width="51.0" height="28.7"/></clipPath>
<g clip-path="url(#cp6_3)"><g filter="url(#heat)"><ellipse cx="408.90" cy="375.40" rx="1.50" ry="1.50" fill="url(#hg)" opacity="0.20"/></g></g>
<rect x="426.7" y="350.0" width="51.0" height="28.7" fill="#242424"/>
<line x1="439.45" y1="350.0" x2="439.45" y2="378.7" stroke="#3a3a3a" stroke-width="0.6"/>
<line x1="452.20" y1="350.0" x2="452.20" y2="378.7" stroke="#3a3a3a" stroke-width="0.6"/>
<line x1="464.95" y1="350.0" x2="464.95" y2="378.7" stroke="#3a3a3a" stroke-width="0.6"/>
<g filter="url(#tx)"><use href="#ms" x="433.30" y="350.00" fill="url(#mg)"/><use href="#ms" x="433.30" y="350.00" fill="url(#me)"/></g>
<g filter="url(#tx)"><use href="#ms" x="445.95" y="350.00" fill="url(#mg)"/><use href="#ms" x="445.95" y="350.00" fill="url(#me)"/></g>
<g filter="url(#tx)"><use href="#ms" x="458.60" y="350.00" fill="url(#mg)"/><use href="#ms" x="458.60" y="350.00" fill="url(#me)"/></g>
<g filter="url(#tx)"><use href="#ms" x="471.25" y="350.00" fill="url(#mg)"/><use href="#ms" x="471.25" y="350.00" fill="url(#me)"/></g>

<clipPath id="cp7_3"><rect x="426.7" y="350.0" width="51.0" height="28.7"/></clipPath>
<g clip-path="url(#cp7_3)"><g filter="url(#heat)"><path d="M459.3,376.5 L462.8,372.8" stroke="#fff" stroke-opacity="0.15" stroke-width="1.6"/><ellipse cx="461.30" cy="372.40" rx="1.50" ry="1.50" fill="url(#hg)" opacity="0.20"/></g></g>
<text x="116.4" y="401.8" font-size="8.53" fill="#231f20" stroke="#231f20" stroke-width="0.2" text-anchor="start" textLength="50.8" lengthAdjust="spacingAndGlyphs" >Luminescence</text>
<rect x="170.9" y="395.5" width="196.3" height="7.0" fill="url(#cbar)" stroke="#1a1a1a" stroke-width="1"/>
<line x1="179.08" y1="403" x2="179.08" y2="404.6" stroke="#1a1a1a" stroke-width="0.8"/>
<line x1="187.26" y1="403" x2="187.26" y2="404.6" stroke="#1a1a1a" stroke-width="0.8"/>
<line x1="195.44" y1="403" x2="195.44" y2="404.6" stroke="#1a1a1a" stroke-width="0.8"/>
<line x1="203.62" y1="403" x2="203.62" y2="406.0" stroke="#1a1a1a" stroke-width="0.8"/>
<line x1="211.80" y1="403" x2="211.80" y2="404.6" stroke="#1a1a1a" stroke-width="0.8"/>
<line x1="219.98" y1="403" x2="219.98" y2="404.6" stroke="#1a1a1a" stroke-width="0.8"/>
<line x1="228.16" y1="403" x2="228.16" y2="404.6" stroke="#1a1a1a" stroke-width="0.8"/>
<line x1="236.34" y1="403" x2="236.34" y2="404.6" stroke="#1a1a1a" stroke-width="0.8"/>
<line x1="244.52" y1="403" x2="244.52" y2="406.0" stroke="#1a1a1a" stroke-width="0.8"/>
<line x1="252.70" y1="403" x2="252.70" y2="404.6" stroke="#1a1a1a" stroke-width="0.8"/>
<line x1="260.88" y1="403" x2="260.88" y2="404.6" stroke="#1a1a1a" stroke-width="0.8"/>
<line x1="269.06" y1="403" x2="269.06" y2="404.6" stroke="#1a1a1a" stroke-width="0.8"/>
<line x1="277.24" y1="403" x2="277.24" y2="404.6" stroke="#1a1a1a" stroke-width="0.8"/>
<line x1="285.42" y1="403" x2="285.42" y2="406.0" stroke="#1a1a1a" stroke-width="0.8"/>
<line x1="293.60" y1="403" x2="293.60" y2="404.6" stroke="#1a1a1a" stroke-width="0.8"/>
<line x1="301.78" y1="403" x2="301.78" y2="404.6" stroke="#1a1a1a" stroke-width="0.8"/>
<line x1="309.96" y1="403" x2="309.96" y2="404.6" stroke="#1a1a1a" stroke-width="0.8"/>
<line x1="318.14" y1="403" x2="318.14" y2="404.6" stroke="#1a1a1a" stroke-width="0.8"/>
<line x1="326.32" y1="403" x2="326.32" y2="406.0" stroke="#1a1a1a" stroke-width="0.8"/>
<line x1="334.50" y1="403" x2="334.50" y2="404.6" stroke="#1a1a1a" stroke-width="0.8"/>
<line x1="342.68" y1="403" x2="342.68" y2="404.6" stroke="#1a1a1a" stroke-width="0.8"/>
<line x1="350.86" y1="403" x2="350.86" y2="404.6" stroke="#1a1a1a" stroke-width="0.8"/>
<line x1="359.04" y1="403" x2="359.04" y2="404.6" stroke="#1a1a1a" stroke-width="0.8"/>
<text x="161.25" y="418.0" font-size="8.21" fill="#231f20" stroke="#231f20" stroke-width="0.2" text-anchor="start" textLength="16.86" lengthAdjust="spacingAndGlyphs" >1x10</text>
<text x="178.31" y="414.3" font-size="5.83" fill="#231f20" stroke="#231f20" stroke-width="0.15" text-anchor="start" textLength="2.84" lengthAdjust="spacingAndGlyphs" >6</text>
<text x="190.15" y="418.0" font-size="8.21" fill="#231f20" stroke="#231f20" stroke-width="0.2" text-anchor="start" textLength="22.37" lengthAdjust="spacingAndGlyphs" >0.5x10</text>
<text x="212.72" y="414.3" font-size="5.83" fill="#231f20" stroke="#231f20" stroke-width="0.15" text-anchor="start" textLength="2.73" lengthAdjust="spacingAndGlyphs" >7</text>
<text x="234.10" y="418.0" font-size="8.21" fill="#231f20" stroke="#231f20" stroke-width="0.2" text-anchor="start" textLength="17.28" lengthAdjust="spacingAndGlyphs" >1x10</text>
<text x="251.58" y="414.3" font-size="5.83" fill="#231f20" stroke="#231f20" stroke-width="0.15" text-anchor="start" textLength="2.92" lengthAdjust="spacingAndGlyphs" >7</text>
<text x="273.20" y="418.0" font-size="8.21" fill="#231f20" stroke="#231f20" stroke-width="0.2" text-anchor="start" textLength="22.82" lengthAdjust="spacingAndGlyphs" >1.5x10</text>
<text x="296.22" y="414.3" font-size="5.83" fill="#231f20" stroke="#231f20" stroke-width="0.15" text-anchor="start" textLength="2.78" lengthAdjust="spacingAndGlyphs" >7</text>
<text x="316.25" y="418.0" font-size="8.21" fill="#231f20" stroke="#231f20" stroke-width="0.2" text-anchor="start" textLength="16.68" lengthAdjust="spacingAndGlyphs" >2x10</text>
<text x="333.13" y="414.3" font-size="5.83" fill="#231f20" stroke="#231f20" stroke-width="0.15" text-anchor="start" textLength="2.82" lengthAdjust="spacingAndGlyphs" >7</text>
<text x="354.00" y="418.0" font-size="8.21" fill="#231f20" stroke="#231f20" stroke-width="0.2" text-anchor="start" textLength="23.18" lengthAdjust="spacingAndGlyphs" >2.5x10</text>
<text x="377.38" y="414.3" font-size="5.83" fill="#231f20" stroke="#231f20" stroke-width="0.15" text-anchor="start" textLength="2.82" lengthAdjust="spacingAndGlyphs" >7</text>
<text x="215.5" y="436.3" font-size="10" fill="#231f20" textLength="107.5" lengthAdjust="spacingAndGlyphs">Radiance (ph/sec/cm<tspan font-size="6.4" dy="-3.6">2</tspan><tspan dy="3.6">/sr)</tspan></text>
</svg>
</body></html>
